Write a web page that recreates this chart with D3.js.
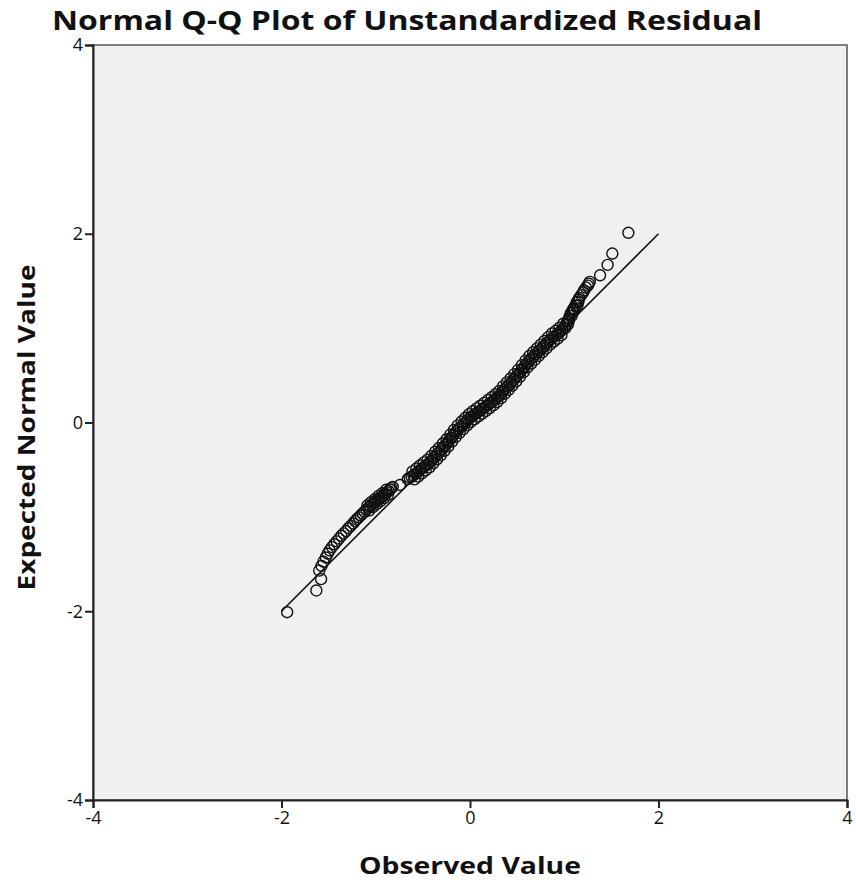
<!DOCTYPE html>
<html>
<head>
<meta charset="utf-8">
<script src="https://cdn.jsdelivr.net/npm/d3@7"></script>
<style>
  body { margin: 0; background: #fff; }
  svg { display: block; }
  text { font-family: "Open Sans", "DejaVu Sans", sans-serif; fill: #111; }
</style>
</head>
<body>
<svg id="chart" width="856" height="886"></svg>
<script>
// observed residuals (x) and their expected normal values (y)
const observed = [
  -1.94, -1.63, -1.58, -1.60, -1.575, -1.555, -1.53, -1.51, -1.49, -1.465, -1.44, -1.415, -1.39, -1.365, -1.34, -1.315, -1.29, -1.265, -1.24,
  -1.22, -1.20, -1.18, -1.16, -1.14, -1.12, -1.10, -1.09, -1.08, -1.07, -1.06, -1.05, -1.04, -1.03, -1.02, -1.01, -1.00,
  -0.99, -0.98, -0.97, -0.96, -0.95, -0.94, -0.93, -0.92, -0.91, -0.90, -0.89, -0.88, -0.87, -0.865, -0.85, -0.835, -0.82,
  -0.743, -0.66, -0.64,
  -0.62, -0.61, -0.60, -0.59, -0.58, -0.57, -0.56, -0.55, -0.54, -0.53, -0.52, -0.51, -0.50, -0.49, -0.48, -0.47, -0.46, -0.45, -0.44, -0.43, -0.42,
  -0.41, -0.40, -0.39, -0.38, -0.37, -0.36, -0.35, -0.34, -0.33, -0.32, -0.31, -0.30, -0.29, -0.28, -0.27, -0.26, -0.25, -0.24, -0.23, -0.22,
  -0.21, -0.20, -0.19, -0.18, -0.17, -0.16, -0.15, -0.14, -0.13, -0.12, -0.11, -0.10, -0.09, -0.08, -0.07, -0.06, -0.05, -0.04, -0.03, -0.02,
  -0.01, 0.00, 0.01, 0.02, 0.03, 0.04, 0.05, 0.06, 0.07, 0.08, 0.09, 0.10, 0.11, 0.12, 0.13, 0.14, 0.15, 0.16, 0.17, 0.18,
  0.19, 0.20, 0.21, 0.22, 0.23, 0.24, 0.25, 0.26, 0.27, 0.28, 0.29, 0.30, 0.31, 0.32, 0.33, 0.34, 0.35, 0.36, 0.37, 0.38,
  0.39, 0.40, 0.41, 0.42, 0.43, 0.44, 0.45, 0.46, 0.47, 0.48, 0.49, 0.50, 0.51, 0.52, 0.53, 0.54, 0.55, 0.56, 0.57, 0.58,
  0.59, 0.60, 0.61, 0.62, 0.63, 0.64, 0.65, 0.66, 0.67, 0.68, 0.69, 0.70, 0.71, 0.72, 0.73, 0.74, 0.75, 0.76, 0.77, 0.78,
  0.79, 0.80, 0.81, 0.82, 0.83, 0.84, 0.85, 0.86, 0.87, 0.88, 0.89, 0.90, 0.91, 0.92, 0.93, 0.94, 0.95, 0.96, 0.97, 0.98,
  0.99, 1.00, 1.01, 1.04, 1.05, 1.08, 1.09, 1.11, 1.14, 1.15,
  1.02, 1.03, 1.05, 1.06, 1.07, 1.09, 1.10, 1.12, 1.13, 1.15, 1.16, 1.18, 1.20, 1.21, 1.23, 1.25, 1.26, 1.27,
  1.38, 1.46, 1.51, 1.68
];
const expected = [
  -2.01, -1.78, -1.66, -1.57, -1.52, -1.475, -1.43, -1.39, -1.355, -1.32, -1.29, -1.26, -1.23, -1.20, -1.175, -1.15, -1.12, -1.095, -1.07,
  -1.045, -1.025, -1.005, -0.985, -0.965, -0.945, -0.925, -0.880, -0.905, -0.933, -0.89, -0.845, -0.87, -0.897, -0.855, -0.813, -0.84,
  -0.865, -0.82, -0.777, -0.805, -0.833, -0.79, -0.748, -0.775, -0.800, -0.755, -0.713, -0.74, -0.768, -0.725, -0.71, -0.695, -0.683,
  -0.662, -0.60, -0.585,
  -0.575, -0.518, -0.560, -0.603, -0.545, -0.488, -0.530, -0.573, -0.515, -0.455, -0.495, -0.538, -0.480, -0.423, -0.465, -0.508, -0.450, -0.393, -0.435, -0.475, -0.415,
  -0.355, -0.395, -0.432, -0.370, -0.310, -0.350, -0.390, -0.330, -0.270, -0.310, -0.348, -0.285, -0.223, -0.260, -0.300, -0.240, -0.178, -0.215, -0.253, -0.190,
  -0.128, -0.165, -0.203, -0.140, -0.078, -0.115, -0.153, -0.090, -0.030, -0.070, -0.110, -0.050, 0.010, -0.030, -0.070, -0.010, 0.050, 0.010, -0.030, 0.030,
  0.089, 0.048, 0.006, 0.063, 0.120, 0.078, 0.036, 0.093, 0.150, 0.108, 0.064, 0.120, 0.178, 0.135, 0.093, 0.150, 0.208, 0.165, 0.123, 0.180,
  0.238, 0.195, 0.153, 0.210, 0.268, 0.225, 0.183, 0.240, 0.300, 0.260, 0.218, 0.275, 0.335, 0.295, 0.258, 0.320, 0.383, 0.345, 0.305, 0.365,
  0.425, 0.385, 0.345, 0.405, 0.468, 0.430, 0.390, 0.450, 0.513, 0.475, 0.435, 0.495, 0.558, 0.520, 0.483, 0.545, 0.608, 0.570, 0.533, 0.595,
  0.658, 0.620, 0.583, 0.645, 0.705, 0.665, 0.625, 0.685, 0.745, 0.705, 0.665, 0.725, 0.785, 0.745, 0.705, 0.765, 0.825, 0.785, 0.745, 0.805,
  0.865, 0.825, 0.785, 0.845, 0.905, 0.865, 0.825, 0.885, 0.943, 0.900, 0.858, 0.915, 0.972, 0.930, 0.888, 0.945, 1.005, 0.965, 0.925, 0.985,
  1.047, 1.010, 1.00, 1.04, 1.08, 1.13, 1.17, 1.20, 1.24, 1.28,
  1.04, 1.07, 1.10, 1.13, 1.16, 1.19, 1.21, 1.24, 1.27, 1.30, 1.32, 1.35, 1.38, 1.40, 1.43, 1.45, 1.47, 1.49,
  1.56, 1.67, 1.79, 2.01
];
const refLine = [-2, 2];           // y = x reference line ends
const xTicks = [-4, -2, 0, 2, 4];
const yTicks = [-4, -2, 0, 2, 4];
const titleText = "Normal Q-Q Plot of Unstandardized Residual";
const xTitle = "Observed Value";
const yTitle = "Expected Normal Value";

const svg = d3.select('#chart');
const margin = {top: 45, right: 9, bottom: 86, left: 93};
const W = 856, H = 886;

const x = d3.scaleLinear().domain([-4, 4]).range([margin.left, W - margin.right]);
const y = d3.scaleLinear().domain([-4, 4]).range([H - margin.bottom, margin.top]);

// plot background + top/right frame
svg.append('rect')
    .attr('x', x(-4)).attr('y', y(4))
    .attr('width', x(4) - x(-4)).attr('height', y(-4) - y(4))
    .style('fill', '#f0f0f0')
    .style('stroke', '#555')
    .style('stroke-width', 1.5);

const fmt = d => String(d);

const xAxis = svg.append('g')
    .attr('transform', `translate(0,${y(-4)})`)
    .call(d3.axisBottom(x).tickValues(xTicks).tickFormat(fmt).tickSize(8).tickPadding(3));
const yAxis = svg.append('g')
    .attr('transform', `translate(${x(-4)},0)`)
    .call(d3.axisLeft(y).tickValues(yTicks).tickFormat(fmt).tickSize(8).tickPadding(2));

[xAxis, yAxis].forEach(g => {
    g.attr('font-size', 18).attr('font-family', '"Open Sans", sans-serif');
    g.select('.domain').style('stroke', '#222').style('stroke-width', 2);
    g.selectAll('.tick line').style('stroke', '#222').style('stroke-width', 2);
    g.selectAll('.tick text').style('font-size', '18px').style('fill', '#111');
});

// reference line
svg.append('line')
    .attr('x1', x(refLine[0])).attr('y1', y(refLine[0]))
    .attr('x2', x(refLine[1])).attr('y2', y(refLine[1]))
    .style('stroke', '#111')
    .style('stroke-width', 1.6);

const pts = observed.map((o, i) => ({obs: o, exp: expected[i]}));

svg.append('g')
    .selectAll('circle')
    .data(pts)
    .join('circle')
    .attr('cx', d => x(d.obs))
    .attr('cy', d => y(d.exp))
    .attr('r', 5.5)
    .style('fill', 'none')
    .style('stroke', '#111')
    .style('stroke-width', 1.4);

// titles
svg.append('text')
    .attr('x', 52).attr('y', 30)
    .attr('textLength', 710).attr('lengthAdjust', 'spacingAndGlyphs')
    .style('font-size', '27px').style('font-weight', 700)
    .text(titleText);

svg.append('text')
    .attr('x', x(0)).attr('y', 874)
    .attr('text-anchor', 'middle')
    .attr('textLength', 222).attr('lengthAdjust', 'spacingAndGlyphs')
    .style('font-size', '24px').style('font-weight', 700)
    .text(xTitle);

svg.append('text')
    .attr('transform', `translate(35,${y(0) + 5}) rotate(-90)`)
    .attr('text-anchor', 'middle')
    .attr('textLength', 326).attr('lengthAdjust', 'spacingAndGlyphs')
    .style('font-size', '24px').style('font-weight', 700)
    .text(yTitle);
</script>
</body>
</html>
